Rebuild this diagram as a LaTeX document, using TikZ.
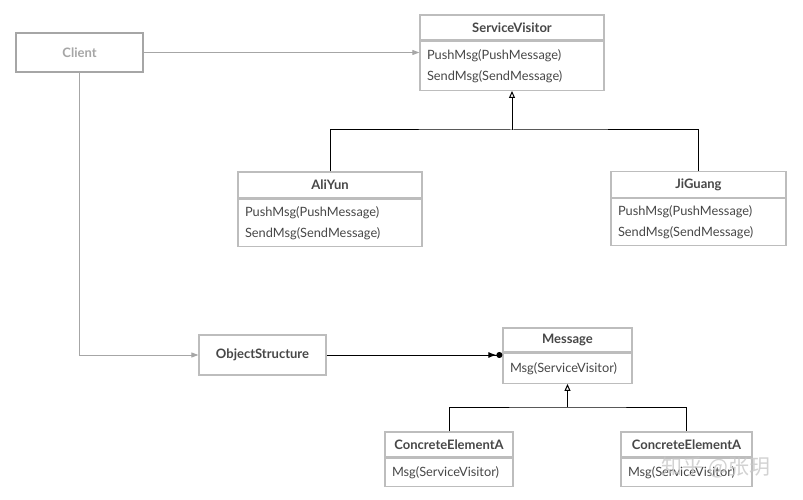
\documentclass[tikz,border=0pt]{standalone}
\usepackage{fontspec}
\setmainfont{Lato}
\newfontfamily\cjk{Noto Sans CJK SC}
\usetikzlibrary{arrows.meta,positioning}
\definecolor{boxline}{HTML}{BDBDBD}
\definecolor{boxtext}{HTML}{474747}
\definecolor{clientgray}{HTML}{A6A6A6}

\begin{document}
\begin{tikzpicture}[x=1pt,y=-1pt,
    head/.style={draw=boxline, line width=1.3pt, minimum height=25pt, inner sep=0pt,
      text=boxtext, font=\fontsize{13}{15}\selectfont\bfseries},
    body/.style={draw=boxline, line width=1.3pt, anchor=north, inner xsep=7pt, inner ysep=0pt,
      align=left, text=boxtext, font=\fontsize{12.8}{21}\selectfont},
    uses/.style={draw=clientgray, line width=0.9pt, -{Triangle[length=7pt,width=5pt]}},
    extends/.style={line width=1pt, {Triangle[open,length=7pt,width=6pt]}-},
    link/.style={line width=1pt}
  ]
  \useasboundingbox[fill=white] (0,0) rectangle (803,500);

  % client
  \node[head, draw=clientgray, text=clientgray, minimum width=127pt, minimum height=39pt]
    (client) at (79.5,52.5) {Client};

  % visitors
  \node[head, minimum width=184pt] (sv) at (512,27.5) {ServiceVisitor};
  \node[body, text width=170pt, minimum height=49pt] (svb) at (sv.south)
    {PushMsg(PushMessage)\\SendMsg(SendMessage)};

  \node[head, minimum width=184pt, minimum height=26pt] (ali) at (330,185) {AliYun};
  \node[body, text width=170pt, minimum height=47pt] (alib) at (ali.south)
    {PushMsg(PushMessage)\\SendMsg(SendMessage)};

  \node[head, minimum width=175pt, minimum height=26pt] (jg) at (698.5,184.5) {JiGuang};
  \node[body, text width=161pt, minimum height=47pt] (jgb) at (jg.south)
    {PushMsg(PushMessage)\\SendMsg(SendMessage)};

  % elements
  \node[head, minimum width=127pt, minimum height=40pt] (os) at (262.5,355) {ObjectStructure};

  \node[head, minimum width=129pt, minimum height=24pt] (msg) at (567.5,340) {Message};
  \node[body, text width=115pt, minimum height=30pt] (msgb) at (msg.south) {Msg(ServiceVisitor)};

  \node[head, minimum width=128pt] (cea) at (449,444.5) {ConcreteElementA};
  \node[body, text width=114pt, minimum height=28pt] (ceab) at (cea.south) {Msg(ServiceVisitor)};

  \node[head, minimum width=131pt] (ceb) at (686.5,444.5) {ConcreteElementA};
  \node[body, text width=117pt, minimum height=28pt] (cebb) at (ceb.south) {Msg(ServiceVisitor)};

  % connectors
  \draw[uses] (client.east) -- (client.east -| svb.west);
  \draw[uses] (client.south) |- (os.west);

  \coordinate (svjoin) at (512,130);
  \draw[extends] (svb.south) -- (svjoin);
  \draw[link] (ali.north) |- (svjoin) -| (jg.north);

  \draw[link, -{Latex[length=8pt,width=6pt]Circle[length=6pt]}] (os.east) -- (os.east -| msgb.west);

  \coordinate (msgjoin) at (567.5,407);
  \draw[extends] (msgb.south) -- (msgjoin);
  \draw[link] (cea.north) |- (msgjoin) -| (ceb.north);

  % watermark
  \node[text=black!22, opacity=0.8, font=\cjk\fontsize{21}{24}\selectfont] (mark) at (716,467) {知乎 @张玥};
\end{tikzpicture}
\end{document}
